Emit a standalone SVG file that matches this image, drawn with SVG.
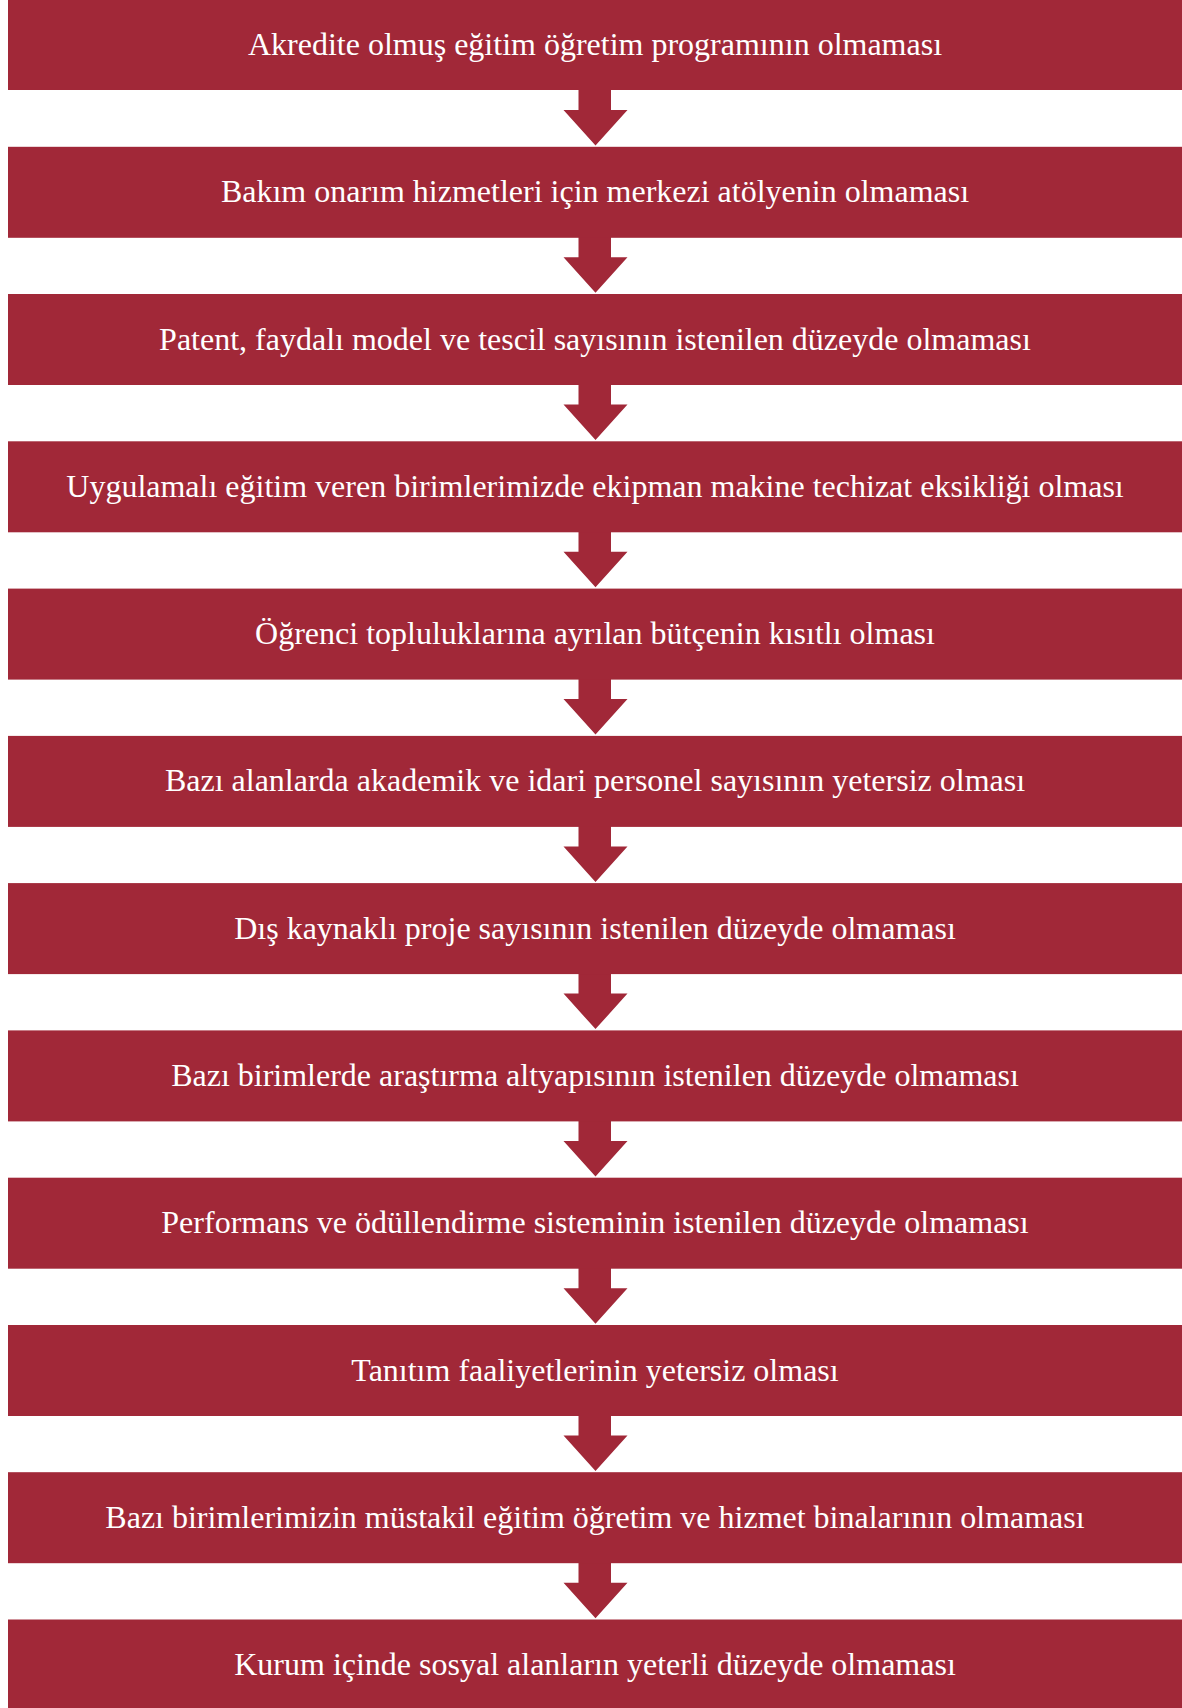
<svg xmlns="http://www.w3.org/2000/svg" width="1182" height="1708" viewBox="0 0 1182 1708">
<style>
.box{fill:#A12838}
.arr{fill:#A12838}
.t{font-family:"Liberation Serif","Times New Roman",serif;font-size:32px;fill:#FFFFFF;text-anchor:middle}
</style>
<defs>
<path id="arrow" d="M578.5,-2 H611 V20 H627.5 L595.5,55.5 L563.5,20 H578.5 Z"/>
</defs>
<rect width="1182" height="1708" fill="#FFFFFF"/>
<g id="connectors">
<use href="#arrow" class="arr" transform="translate(0,90)"/>
<use href="#arrow" class="arr" transform="translate(0,237.3)"/>
<use href="#arrow" class="arr" transform="translate(0,384.5)"/>
<use href="#arrow" class="arr" transform="translate(0,531.8)"/>
<use href="#arrow" class="arr" transform="translate(0,679.1)"/>
<use href="#arrow" class="arr" transform="translate(0,826.4)"/>
<use href="#arrow" class="arr" transform="translate(0,973.6)"/>
<use href="#arrow" class="arr" transform="translate(0,1120.9)"/>
<use href="#arrow" class="arr" transform="translate(0,1268.2)"/>
<use href="#arrow" class="arr" transform="translate(0,1415.5)"/>
<use href="#arrow" class="arr" transform="translate(0,1562.7)"/>
</g>
<g id="n1"><rect class="box" x="8" y="-1" width="1174" height="91"/><text class="t" x="595" y="55">Akredite olmuş eğitim öğretim programının olmaması</text></g>
<g id="n2"><rect class="box" x="8" y="146.8" width="1174" height="91"/><text class="t" x="595" y="202.3">Bakım onarım hizmetleri için merkezi atölyenin olmaması</text></g>
<g id="n3"><rect class="box" x="8" y="294" width="1174" height="91"/><text class="t" x="595" y="349.5">Patent, faydalı model ve tescil sayısının istenilen düzeyde olmaması</text></g>
<g id="n4"><rect class="box" x="8" y="441.3" width="1174" height="91"/><text class="t" x="595" y="496.8">Uygulamalı eğitim veren birimlerimizde ekipman makine techizat eksikliği olması</text></g>
<g id="n5"><rect class="box" x="8" y="588.6" width="1174" height="91"/><text class="t" x="595" y="644.1">Öğrenci topluluklarına ayrılan bütçenin kısıtlı olması</text></g>
<g id="n6"><rect class="box" x="8" y="735.9" width="1174" height="91"/><text class="t" x="595" y="791.4">Bazı alanlarda akademik ve idari personel sayısının yetersiz olması</text></g>
<g id="n7"><rect class="box" x="8" y="883.1" width="1174" height="91"/><text class="t" x="595" y="938.6">Dış kaynaklı proje sayısının istenilen düzeyde olmaması</text></g>
<g id="n8"><rect class="box" x="8" y="1030.4" width="1174" height="91"/><text class="t" x="595" y="1085.9">Bazı birimlerde araştırma altyapısının istenilen düzeyde olmaması</text></g>
<g id="n9"><rect class="box" x="8" y="1177.7" width="1174" height="91"/><text class="t" x="595" y="1233.2">Performans ve ödüllendirme sisteminin istenilen düzeyde olmaması</text></g>
<g id="n10"><rect class="box" x="8" y="1325" width="1174" height="91"/><text class="t" x="595" y="1380.5">Tanıtım faaliyetlerinin yetersiz olması</text></g>
<g id="n11"><rect class="box" x="8" y="1472.2" width="1174" height="91"/><text class="t" x="595" y="1527.7">Bazı birimlerimizin müstakil eğitim öğretim ve hizmet binalarının olmaması</text></g>
<g id="n12"><rect class="box" x="8" y="1619.5" width="1174" height="91"/><text class="t" x="595" y="1675">Kurum içinde sosyal alanların yeterli düzeyde olmaması</text></g>
</svg>
